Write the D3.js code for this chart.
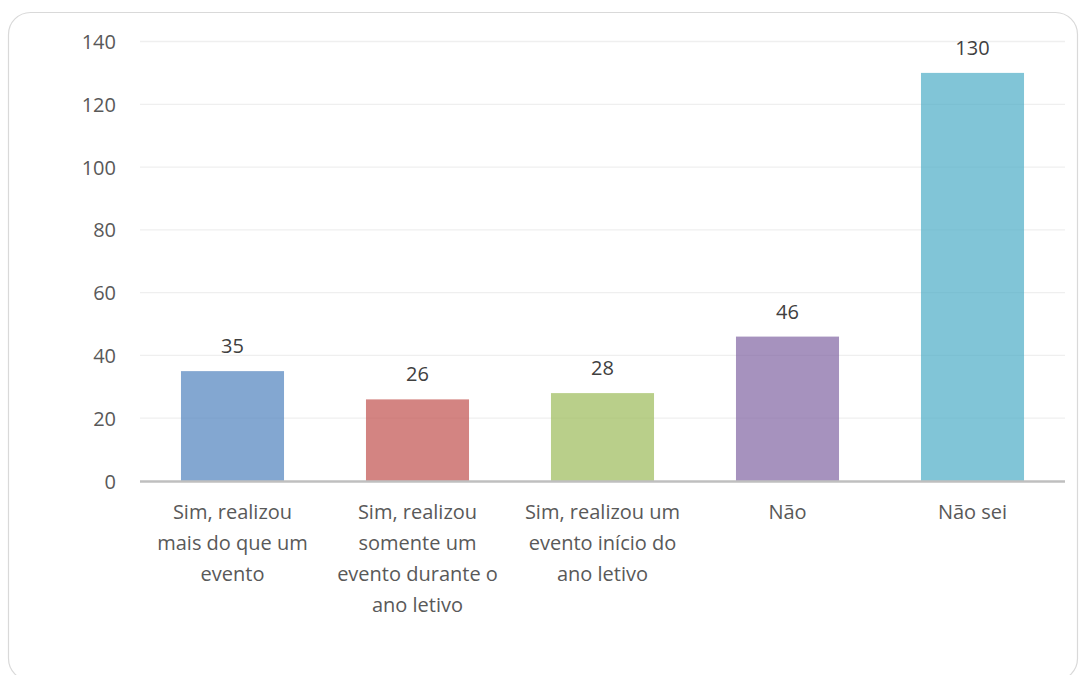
<!DOCTYPE html>
<html><head><meta charset="utf-8">
<script src="https://cdn.jsdelivr.net/npm/d3@7"></script>
<style>body{margin:0;background:#fff}svg{display:block}</style>
</head><body>
<svg id="c" width="1082" height="675"></svg>
<script>
const categories = ["Sim, realizou mais do que um evento","Sim, realizou somente um evento durante o ano letivo","Sim, realizou um evento início do ano letivo","Não","Não sei"];
const categoryLines = [["Sim, realizou","mais do que um","evento"],["Sim, realizou","somente um","evento durante o","ano letivo"],["Sim, realizou um","evento início do","ano letivo"],["Não"],["Não sei"]];
const values = [35,26,28,46,130];
const colors = ["#4F81BD","#C0504D","#9BBB59","#8064A2","#4BACC6"];
const yTicks = [0,20,40,60,80,100,120,140];

const svg = d3.select("#c");
const font = "'Open Sans', 'Noto Sans', sans-serif";
const fs = 20;
svg.append("rect").attr("x",8.5).attr("y",12.5).attr("width",1069).attr("height",668)
  .attr("rx",22).attr("fill","#fff").attr("stroke","#d9d9d9").attr("stroke-width",1.2);

const x = d3.scaleBand().domain(categories).range([140,1065]).paddingInner(0.443).paddingOuter(0.2215);
const y = d3.scaleLinear().domain([0,140]).range([481,41.5]);

const g = svg.append("g");
g.selectAll("line.grid").data(yTicks.filter(d=>d>0)).join("line")
  .attr("x1",140).attr("x2",1065).attr("y1",d=>y(d)).attr("y2",d=>y(d))
  .attr("stroke","#efefef").attr("stroke-width",1.3);

const yAxis = d3.axisLeft(y).tickValues(yTicks).tickSize(0).tickPadding(0);
const ya = svg.append("g").attr("transform","translate(116,0)").call(yAxis);
ya.select(".domain").remove();
ya.selectAll("text").attr("font-family",font).attr("font-size",fs).attr("fill","#595959").attr("dy","0.35em");

g.selectAll("rect.bar").data(values).join("rect")
  .attr("x",(d,i)=>x(categories[i])).attr("width",x.bandwidth())
  .attr("y",d=>y(d)).attr("height",d=>y(0)-y(d))
  .attr("fill",(d,i)=>colors[i]).attr("fill-opacity",0.7);

svg.append("line").attr("x1",140).attr("x2",1065).attr("y1",y(0)+0.5).attr("y2",y(0)+0.5)
  .attr("stroke","#bfbfbf").attr("stroke-width",2.5);

g.selectAll("text.val").data(values).join("text")
  .attr("x",(d,i)=>x(categories[i])+x.bandwidth()/2).attr("y",d=>y(d)-18)
  .attr("text-anchor","middle").attr("font-family",font).attr("font-size",fs).attr("fill","#404040")
  .text(d=>d);

const xa = svg.append("g");
categories.forEach((c,i)=>{
  const t = xa.append("text").attr("text-anchor","middle").attr("font-family",font)
    .attr("font-size",fs).attr("fill","#595959");
  categoryLines[i].forEach((ln,j)=>{
    t.append("tspan").attr("x",x(c)+x.bandwidth()/2).attr("y",519+j*31).text(ln);
  });
});
</script>
</body></html>
